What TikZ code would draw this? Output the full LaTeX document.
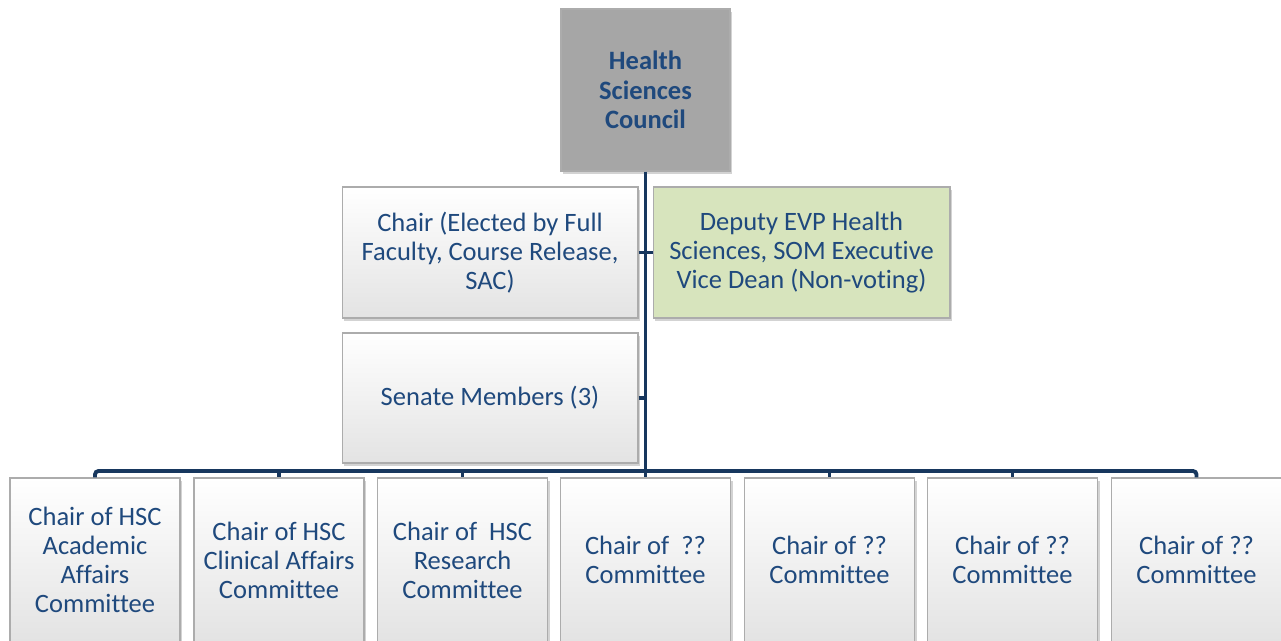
\documentclass[tikz,border=0pt]{standalone}
\usepackage{fontspec}
\setmainfont[Ligatures=NoCommon]{Carlito}
\usetikzlibrary{shadows}
\definecolor{hscblue}{RGB}{31,73,125}
\definecolor{hscline}{RGB}{23,55,94}
\definecolor{hscgray}{RGB}{166,166,166}
\definecolor{hscgreen}{RGB}{215,228,189}
\begin{document}
\begin{tikzpicture}[x=0.02cm, y=-0.02cm]
	\useasboundingbox (0,0) rectangle (1281,641);
	\tikzset{
		orgbox/.style={draw=gray!65, line width=0.6pt, inner sep=0pt, align=center,
			text=hscblue, font=\fontsize{15.1}{16.5}\selectfont,
			drop shadow={opacity=0.35, shadow xshift=1.2pt, shadow yshift=-1.6pt}},
		whitebox/.style={orgbox, top color=white, bottom color=gray!22},
		widebox/.style={whitebox, minimum width=5.92cm, minimum height=2.62cm},
		chairbox/.style={whitebox, minimum width=3.4cm, minimum height=3.28cm},
		link/.style={draw=hscline, line width=2.2pt}
	}
	% council and its members
	\node[orgbox, fill=hscgray, minimum width=3.38cm, minimum height=3.24cm, font=\fontsize{15.1}{16.7}\selectfont\bfseries]
		(hsc) at (645.5,90) {Health\\Sciences\\Council};
	\node[widebox] (chair) at (490,252.5) {Chair (Elected by Full\\Faculty, Course Release,\\SAC)};
	\node[orgbox, fill=hscgreen, minimum width=5.94cm, minimum height=2.62cm]
		(deputy) at (801.5,252.5) {Deputy EVP Health\\Sciences, SOM Executive\\Vice Dean (Non-voting)};
	\node[widebox, minimum height=2.6cm] (senate) at (490,398) {Senate Members (3)};
	% committee chairs
	\node[chairbox] (c1) at (95,560) {Chair of HSC\\Academic\\Affairs\\Committee};
	\node[chairbox] (c2) at (279,560) {Chair of HSC\\Clinical Affairs\\Committee};
	\node[chairbox] (c3) at (462.5,560) {Chair of~ HSC\\Research\\Committee};
	\node[chairbox] (c4) at (645.5,560) {Chair of~ ??\\Committee};
	\node[chairbox] (c5) at (829.5,560) {Chair of ??\\Committee};
	\node[chairbox] (c6) at (1012.5,560) {Chair of ??\\Committee};
	\node[chairbox] (c7) at (1196.5,560) {Chair of ??\\Committee};
	\coordinate (bus) at (645.5,471);
	\draw[link] (hsc.south) -- (bus);
	\draw[link] (chair.east) -- (deputy.west);
	\draw[link] (senate.east) -- (senate.east -| hsc.south);
	\draw[link, rounded corners=2pt] (c1.north) |- (bus) -| (c7.north);
	\draw[link] (bus -| c2.north) -- (c2.north);
	\draw[link] (bus -| c3.north) -- (c3.north);
	\draw[link] (bus) -- (c4.north);
	\draw[link] (bus -| c5.north) -- (c5.north);
	\draw[link] (bus -| c6.north) -- (c6.north);
\end{tikzpicture}
\end{document}
